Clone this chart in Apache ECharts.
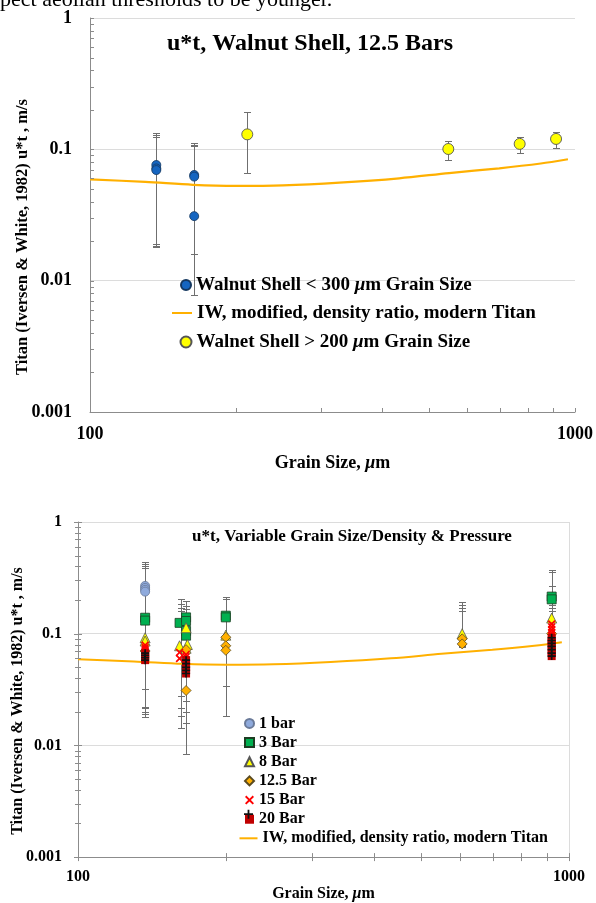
<!DOCTYPE html>
<html><head><meta charset="utf-8">
<script src="https://cdn.jsdelivr.net/npm/echarts@6/dist/echarts.min.js"></script>
<style>html,body{margin:0;padding:0;background:#fff}#c{width:596px;height:903px}</style>
</head><body><div id="c"></div>
<script>
const FONT = 'Liberation Serif';

// ---- shared tick labels ----
const yTickLabels = ['0.001', '0.01', '0.1', '1'];
const xTickLabels = ['100', '1000'];
const yMinorMult = [2, 3, 4, 5, 6, 7, 8, 9];
const xMinorTicks = [200, 300, 400, 500, 600, 700, 800, 900];

// ---- IW modified curve (both charts) ----
const iwGrain = [100, 130, 163, 200, 250, 327, 434, 550, 698, 850, 967];
const iwUt    = [0.059, 0.0565, 0.0537, 0.0527, 0.0532, 0.0558, 0.0602, 0.066, 0.0717, 0.078, 0.084];

// ---- top chart: walnut shell 12.5 bar ----
const wsSmallGrain = [137, 137, 137, 164, 164, 164];
const wsSmallUt    = [0.076, 0.0715, 0.0695, 0.0638, 0.062, 0.031];
const wsSmallLo    = [0.019, 0.0185, 0.018, 0.016, 0.0078, 0.016];
const wsSmallHi    = [0.133, 0.128, 0.124, 0.111, 0.106, 0.107];
const wsLargeGrain = [211, 548, 769, 914];
const wsLargeUt    = [0.130, 0.1006, 0.110, 0.120];
const wsLargeLo    = [0.066, 0.083, 0.094, 0.102];
const wsLargeHi    = [0.191, 0.115, 0.125, 0.1355];

// ---- bottom chart: variable grain size / density & pressure ----
const bar1  = [[137, 0.268], [137, 0.257], [137, 0.247], [137, 0.238]];
const bar3  = [[137, 0.139], [137, 0.131], [161, 0.125], [166, 0.14], [166, 0.13], [166, 0.106], [166, 0.096], [200, 0.145], [200, 0.14], [922, 0.215], [922, 0.203]];
const bar8  = [[137, 0.092], [137, 0.086], [166, 0.113], [161, 0.078], [166, 0.074], [167, 0.08], [200, 0.097], [606, 0.10], [922, 0.138]];
const bar12 = [[137, 0.07], [166, 0.031], [166, 0.072], [200, 0.093], [200, 0.078], [200, 0.071], [606, 0.09], [606, 0.081], [922, 0.1]];
const bar15 = [[137, 0.079], [137, 0.075], [137, 0.072], [137, 0.069], [161, 0.068], [166, 0.065], [166, 0.062], [161, 0.06], [922, 0.122], [922, 0.115], [922, 0.108], [922, 0.102], [922, 0.097]];
const bar20 = [[137, 0.067], [137, 0.064], [137, 0.061], [137, 0.058], [166, 0.058], [166, 0.054], [166, 0.05], [166, 0.047], [166, 0.044], [922, 0.092], [922, 0.087], [922, 0.082], [922, 0.077], [922, 0.072], [922, 0.067], [922, 0.063]];
const varErr = [
  [137, 0.018, 0.435], [137, 0.019, 0.42], [137, 0.0198, 0.405], [137, 0.0214, 0.40], [137, 0.022, 0.39], [137, 0.032, 0.125],
  [162, 0.0277, 0.204], [166, 0.025, 0.195], [162, 0.0214, 0.186], [166, 0.0198, 0.178], [162, 0.0185, 0.171], [166, 0.016, 0.165], [162, 0.0142, 0.16], [166, 0.0083, 0.15],
  [200, 0.034, 0.215], [200, 0.0185, 0.205],
  [606, 0.085, 0.194], [606, 0.08, 0.181], [606, 0.078, 0.17], [606, 0.076, 0.159],
  [922, 0.07, 0.375], [922, 0.068, 0.36], [922, 0.066, 0.268], [922, 0.064, 0.23], [922, 0.066, 0.208], [922, 0.07, 0.18], [922, 0.072, 0.17], [922, 0.075, 0.159]
];

const IW_NAME = 'IW, modified, density ratio, modern Titan';
const ORANGE = '#FFB000';
const AXIS_C = '#8c8c8c';
const ERR_C = '#6f6f6f';

function zip(a, b) { return a.map((v, i) => [v, b[i]]); }
function zip3(a, b, c) { return a.map((v, i) => [v, b[i], c[i]]); }

const yTickVals = [];
for (let k = -3; k <= 0; k++) {
  yTickVals.push([100, Math.pow(10, k), 1]);
  if (k < 0) yMinorMult.forEach(m => yTickVals.push([100, m * Math.pow(10, k), 0]));
}
const xTickVals = [[100, 0.001, 1], [1000, 0.001, 1]].concat(xMinorTicks.map(g => [g, 0.001, 0]));

function tickRenderer(dir, major, minor) {
  return function (params, api) {
    const p = api.coord([api.value(0), api.value(1)]);
    const r = api.value(2) ? major : minor;
    if (dir === 'y') {
      const y = Math.round(p[1]) + 0.5;
      return { type: 'line', shape: { x1: p[0] + r[0], y1: y, x2: p[0] + r[1], y2: y }, style: { stroke: AXIS_C, lineWidth: 1 } };
    }
    const x = Math.round(p[0]) + 0.5;
    return { type: 'line', shape: { x1: x, y1: p[1] + r[0], x2: x, y2: p[1] + r[1] }, style: { stroke: AXIS_C, lineWidth: 1 } };
  };
}
function errRenderer(w) {
  return function (params, api) {
    const g = api.value(0);
    const hi = api.coord([g, api.value(2)]), lo = api.coord([g, api.value(1)]);
    const cx = Math.round(hi[0]) + 0.5, yh = Math.round(hi[1]) + 0.5, yl = Math.round(lo[1]) + 0.5;
    const st = { stroke: ERR_C, lineWidth: 1 };
    return { type: 'group', children: [
      { type: 'line', shape: { x1: cx, y1: yh, x2: cx, y2: yl }, style: st },
      { type: 'line', shape: { x1: cx - w, y1: yh, x2: cx + w, y2: yh }, style: st },
      { type: 'line', shape: { x1: cx - w, y1: yl, x2: cx + w, y2: yl }, style: st }
    ] };
  };
}

function makeAxes(idx, labelSize, xMargin, yMargin, xName, xNameGap, xNameSize, xSplit) {
  const x = {
    type: 'log', logBase: 10, min: 100, max: 1000, gridIndex: idx,
    axisLine: { show: true, lineStyle: { color: AXIS_C, width: 1 } },
    axisTick: { show: false }, minorTick: { show: false },
    splitLine: { show: xSplit, lineStyle: { color: '#dcdcdc', width: 1 } },
    axisLabel: { fontFamily: FONT, fontWeight: 'bold', fontSize: labelSize, color: '#000', margin: xMargin,
      formatter: v => xTickLabels[Math.round(Math.log10(v)) - 2] },
    name: xName, nameLocation: 'middle', nameGap: xNameGap,
    nameTextStyle: { color: '#000', rich: {
      b: { fontFamily: FONT, fontWeight: 'bold', fontSize: xNameSize, color: '#000' },
      i: { fontFamily: FONT, fontWeight: 'bold', fontStyle: 'italic', fontSize: xNameSize, color: '#000' } } }
  };
  const y = {
    type: 'log', logBase: 10, min: 0.001, max: 1, gridIndex: idx,
    axisLine: { show: true, lineStyle: { color: AXIS_C, width: 1 } },
    axisTick: { show: false }, minorTick: { show: false },
    splitLine: { show: true, lineStyle: { color: '#dcdcdc', width: 1 } },
    axisLabel: { fontFamily: FONT, fontWeight: 'bold', fontSize: labelSize, color: '#000', margin: yMargin,
      formatter: v => yTickLabels[Math.round(Math.log10(v)) + 3] }
  };
  return [x, y];
}

const [xTop, yTop] = makeAxes(0, 18, 13, 18, '{b|Grain Size, }{i|μ}{b|m}', 42, 18, false);
const [xBot, yBot] = makeAxes(1, 16, 12, 16, '{b|Grain Size, }{i|μ}{b|m}', 20, 16, true);

const legendRich = size => ({
  t: { fontFamily: FONT, fontWeight: 'bold', fontSize: size, color: '#000' },
  i: { fontFamily: FONT, fontWeight: 'bold', fontStyle: 'italic', fontSize: size, color: '#000' }
});
function legFmt(name) {
  const k = name.indexOf('μ');
  if (k < 0) return '{t|' + name + '}';
  return '{t|' + name.slice(0, k) + '}{i|μ}{t|' + name.slice(k + 1) + '}';
}
function leg(names, left, top, w, h, size, lh, gap, icons, fmt) {
  return {
    data: names.map((n, i) => icons && icons[i] ? { name: n, icon: icons[i] } : { name: n }),
    orient: 'vertical', left: left, top: top, itemWidth: w, itemHeight: h, itemGap: gap, padding: 0,
    selectedMode: false, formatter: fmt || legFmt,
    textStyle: { fontFamily: FONT, fontWeight: 'bold', fontSize: size, lineHeight: lh, color: '#000', rich: legendRich(size) }
  };
}

const WS_SMALL = 'Walnut Shell < 300 μm Grain Size';
const WS_LARGE = 'Walnet Shell > 200 μm Grain Size';
const X_PATH = 'path://M0,1.5L1.5,0L5,3.5L8.5,0L10,1.5L6.5,5L10,8.5L8.5,10L5,6.5L1.5,10L0,8.5L3.5,5Z';
const PLUS_PATH = 'path://M4,0H6V4H10V6H6V10H4V6H0V4H4Z';

const option = {
  animation: false,
  backgroundColor: '#fff',
  grid: [
    { left: 90, top: 18, width: 486, height: 394 },
    { left: 78, top: 522, width: 491, height: 343 }
  ],
  xAxis: [xTop, xBot],
  yAxis: [yTop, yBot],
  legend: [
    leg([WS_SMALL], 180, 274, 10, 10, 19, 22, 0, ['circle']),
    leg([IW_NAME], 172, 302, 20, 2, 19, 22, 0, ['rect']),
    leg([WS_LARGE], 179.5, 331, 11, 11, 19, 22, 0, ['circle']),
    leg(['1 bar', '3 Bar', '8 Bar', '12.5 Bar', '15 Bar', '20 Bar'], 244, 713.8, 9, 9, 16, 19.17, 0,
      ['circle', 'rect', 'triangle', 'diamond', X_PATH, 'rect']),
    leg(['20 Bar cross'], 244, 713.8 + 5 * 19.17, 9, 9, 16, 19.17, 0, [PLUS_PATH], () => ''),
    leg([IW_NAME], 239.5, 828.8, 18, 2, 16, 19, 0, ['rect'])
  ],
  graphic: [
    { type: 'text', x: 0, y: 11, style: { text: 'pect aeolian thresholds to be younger.', font: '22px "Liberation Serif"', fill: '#000', align: 'left', verticalAlign: 'bottom', textAlign: 'left', textVerticalAlign: 'bottom' } },
    { type: 'text', x: 310, y: 44, style: { text: 'u*t, Walnut Shell, 12.5 Bars', font: 'bold 24px "Liberation Serif"', fill: '#000', align: 'center', verticalAlign: 'middle', textAlign: 'center', textVerticalAlign: 'middle' } },
    { type: 'text', x: 352, y: 537, style: { text: 'u*t, Variable Grain Size/Density & Pressure', font: 'bold 17px "Liberation Serif"', fill: '#000', align: 'center', verticalAlign: 'middle', textAlign: 'center', textVerticalAlign: 'middle' } },
    { type: 'text', x: 23, y: 237, rotation: Math.PI / 2, style: { text: 'Titan (Iversen & White, 1982) u*t , m/s', font: 'bold 16.5px "Liberation Serif"', fill: '#000', align: 'center', verticalAlign: 'middle', textAlign: 'center', textVerticalAlign: 'middle' } },
    { type: 'text', x: 18, y: 701, rotation: Math.PI / 2, style: { text: 'Titan (Iversen & White, 1982) u*t , m/s', font: 'bold 16px "Liberation Serif"', fill: '#000', align: 'center', verticalAlign: 'middle', textAlign: 'center', textVerticalAlign: 'middle' } }
  ],
  series: [
    // ---- top chart ----
    { type: 'custom', name: 'ticksYTop', xAxisIndex: 0, yAxisIndex: 0, data: yTickVals, renderItem: tickRenderer('y', [0, 4], [0, 4]), z: 6, silent: true },
    { type: 'custom', name: 'ticksXTop', xAxisIndex: 0, yAxisIndex: 0, data: xTickVals, renderItem: tickRenderer('x', [-4, 0], [-4, 0]), z: 6, silent: true },
    { type: 'custom', name: 'errSmall', xAxisIndex: 0, yAxisIndex: 0, data: zip3(wsSmallGrain, wsSmallLo, wsSmallHi), encode: { x: 0, y: [1, 2] }, renderItem: errRenderer(3.5), z: 2, silent: true },
    { type: 'custom', name: 'errLarge', xAxisIndex: 0, yAxisIndex: 0, data: zip3(wsLargeGrain, wsLargeLo, wsLargeHi), encode: { x: 0, y: [1, 2] }, renderItem: errRenderer(3.5), z: 2, silent: true },
    { type: 'line', name: IW_NAME, xAxisIndex: 0, yAxisIndex: 0, data: zip(iwGrain, iwUt), smooth: 0.3, symbol: 'none', lineStyle: { color: ORANGE, width: 2.2 }, itemStyle: { color: ORANGE }, z: 3 },
    { type: 'scatter', name: WS_SMALL, xAxisIndex: 0, yAxisIndex: 0, data: zip(wsSmallGrain, wsSmallUt), symbol: 'circle', symbolSize: 9, itemStyle: { color: '#1565C0', borderColor: '#14375f', borderWidth: 0.8, opacity: 1 }, z: 4 },
    { type: 'scatter', name: WS_LARGE, xAxisIndex: 0, yAxisIndex: 0, data: zip(wsLargeGrain, wsLargeUt), symbol: 'circle', symbolSize: 11, itemStyle: { color: '#FFFF00', borderColor: '#555', borderWidth: 0.9, opacity: 1 }, z: 4 },
    // ---- bottom chart ----
    { type: 'custom', name: 'ticksYBot', xAxisIndex: 1, yAxisIndex: 1, data: yTickVals, renderItem: tickRenderer('y', [-4, 4], [-3, 3]), z: 6, silent: true },
    { type: 'custom', name: 'ticksXBot', xAxisIndex: 1, yAxisIndex: 1, data: xTickVals, renderItem: tickRenderer('x', [-4, 4], [-4, 4]), z: 6, silent: true },
    { type: 'custom', name: 'errVar', xAxisIndex: 1, yAxisIndex: 1, data: varErr, encode: { x: 0, y: [1, 2] }, renderItem: errRenderer(3.5), z: 2, silent: true },
    { type: 'line', name: IW_NAME, xAxisIndex: 1, yAxisIndex: 1, data: zip(iwGrain, iwUt), smooth: 0.3, symbol: 'none', lineStyle: { color: ORANGE, width: 2 }, itemStyle: { color: ORANGE }, z: 3 },
    { type: 'scatter', name: '1 bar', xAxisIndex: 1, yAxisIndex: 1, data: bar1, symbol: 'circle', symbolSize: 9, itemStyle: { color: '#8FAADC', borderColor: '#6a7a99', borderWidth: 0.8, opacity: 1 }, z: 4 },
    { type: 'scatter', name: '3 Bar', xAxisIndex: 1, yAxisIndex: 1, data: bar3, symbol: 'rect', symbolSize: 9, itemStyle: { color: '#00B050', borderColor: '#1d3d22', borderWidth: 0.8, opacity: 1 }, z: 4 },
    { type: 'scatter', name: '8 Bar', xAxisIndex: 1, yAxisIndex: 1, data: bar8, symbol: 'triangle', symbolSize: 10, itemStyle: { color: '#FFFF00', borderColor: '#555', borderWidth: 0.8, opacity: 1 }, z: 4 },
    { type: 'scatter', name: '12.5 Bar', xAxisIndex: 1, yAxisIndex: 1, data: bar12, symbol: 'diamond', symbolSize: 10, itemStyle: { color: '#FFB000', borderColor: '#5a4a20', borderWidth: 0.8, opacity: 1 }, z: 4 },
    { type: 'scatter', name: '15 Bar', xAxisIndex: 1, yAxisIndex: 1, data: bar15, symbol: X_PATH, symbolSize: 8, itemStyle: { color: '#FF0000', opacity: 1 }, z: 4 },
    { type: 'scatter', name: '20 Bar', xAxisIndex: 1, yAxisIndex: 1, data: bar20, symbol: 'rect', symbolSize: 8, itemStyle: { color: '#C00000', opacity: 1 }, z: 4 },
    { type: 'scatter', name: '20 Bar cross', xAxisIndex: 1, yAxisIndex: 1, data: bar20, symbol: PLUS_PATH, symbolSize: 8, itemStyle: { color: '#111', opacity: 1 }, z: 5, silent: true }
  ]
};

const chart = echarts.init(document.getElementById('c'), null, { renderer: 'canvas' });
chart.setOption(option);
</script>
</body></html>
